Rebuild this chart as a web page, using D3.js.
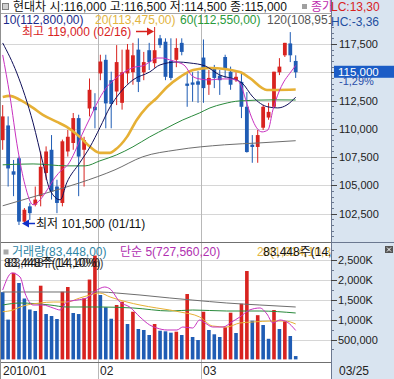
<!DOCTYPE html>
<html>
<head>
<meta charset="utf-8">
<script src="https://cdn.jsdelivr.net/npm/d3@7"></script>
<style>
html, body { margin: 0; padding: 0; background: #fff; overflow: hidden; }
svg { display: block; font-family: "Liberation Sans", "Noto Sans CJK KR", sans-serif; }
</style>
</head>
<body>
<script>
// daily candles, 2010/01/06 .. 2010/03/25
const opens  = [109000,110300,106250,107400,101800,103150,103300,104050,106100,108150,104900,103450,108000,108750,110950,108150,111800,111950,114900,116100,114300,113300,112300,114900,115000,117000,115000,116950,115800,118000,117700,116000,116100,117600,114000,114100,114200,116300,113900,115400,114700,116350,115050,114300,114150,111950,108600,108400,110100,111000,111950,115000,116500,117550,116000];
const highs  = [112100,111100,107250,107550,103000,103450,104900,108000,108450,109450,105500,109050,109900,111400,111250,109300,114450,113150,116550,116550,115050,117400,117000,117500,117600,118000,116800,117600,119000,118300,118000,118000,118000,118000,115000,115000,115100,117900,115200,115650,115200,116550,115500,115000,115050,113250,109450,109900,112100,112300,115050,116250,117600,118550,116500];
const lows   = [108150,104900,104050,101500,101600,101950,103150,103150,105500,103750,102550,103150,107550,108150,104050,104900,111100,110050,114300,110050,110050,112100,111700,114000,113900,113250,114300,115200,115400,117150,114300,114300,115450,116500,111950,112400,112300,112300,113000,113600,113000,114500,113450,114150,110950,107900,107000,107000,109900,110800,111850,114750,116350,115900,114500];
const closes = [111100,106500,105950,101800,102850,102550,103750,106650,108000,104450,103450,108900,109300,110950,107550,109000,113450,111650,115950,112250,112200,115900,115000,117000,116500,114150,115900,115900,116950,117400,114600,114500,117150,116800,113800,113900,113900,113600,114500,114500,114300,115200,113900,114600,111950,107950,108400,109450,111950,111500,115050,115500,117600,116500,115000];
const volumes = [1690000,1000000,2178000,1920000,1530000,1254000,1216000,1852000,1140000,1090000,1015000,1701000,1819000,1166000,1140000,1535000,2007000,2610000,1618000,1309000,1022000,1367000,1450000,889000,1198000,764000,739000,613000,889000,721000,706000,671000,696000,613000,1643000,563000,487000,1198000,739000,631000,563000,807000,1173000,663000,1399000,2221000,972000,1111000,864000,518000,1241000,764000,957000,588000,83448];

// moving averages: [candle index, value]
const ma5 = [[0,116530],[1.3,113000],[2.8,108140],[4.1,105060],[5.6,103290],[6.9,103730],[8.2,104610],[9.6,105670],[10.9,106380],[12,106820],[13.3,107970],[14.6,109470],[16.1,110970],[17.5,112380],[18.8,113440],[20.1,114150],[21.6,114760],[23.1,115210],[24.4,115470],[25.8,115560],[27.1,115910],[28.4,116260],[29.5,116260],[30.8,116090],[32.1,115910],[33.6,115560],[34.9,114680],[36.3,114410],[38.2,114320],[40,114410],[41.9,114410],[43,114320],[43.9,113880],[44.8,112560],[45.9,110970],[46.8,110090],[47.8,109730],[48.9,109910],[49.8,111680],[50.9,113260],[51.8,114150],[52.9,114900],[54,115600]];
const ma10 = [[0,117590],[2.6,114940],[5.6,110530],[7.4,107000],[8.7,104610],[10.6,103730],[11.8,105230],[14.2,107000],[16.1,108410],[17.9,110090],[19.8,111940],[21.6,113180],[24,114320],[27.1,115030],[29,115650],[32.1,115910],[34.5,115820],[37.3,115560],[40,114760],[43.1,114320],[44.1,114060],[46.1,112820],[48.9,111940],[50.7,111850],[52.4,112120],[54,112800]];
const ma20 = [[0,112820],[1.3,112910],[3.2,112560],[5.6,111850],[7.4,111230],[10,110620],[11.8,110170],[14.2,109290],[16.1,108410],[17.9,107880],[19.8,107880],[20.7,108140],[22.9,109290],[24.7,110790],[26.6,111940],[28.4,112730],[30.3,113700],[32.7,114590],[35.1,115210],[38.2,115380],[43.7,115030],[45.5,114500],[48.7,113440],[50.5,113440],[54,113475]];
const ma60 = [[0,106820],[5.6,106900],[11.8,106730],[15.2,106730],[17.9,107170],[21,107700],[24,108410],[27.1,109290],[30.3,110090],[33.2,110790],[36.3,111410],[38.2,111850],[40.6,112200],[43.7,112470],[49.8,112560],[54,112550]];
const ma120 = [[0,103200],[6.9,104170],[14.2,105230],[20.7,106380],[25.8,107530],[32.1,108140],[40.9,108590],[47.4,108760],[54,108951]];

const vma5 = [[0,1744000],[1.7,2171000],[3.2,2070000],[4.1,1668000],[5.6,1367000],[7.4,1367000],[9.3,1292000],[10.6,1241000],[11.8,1442000],[13.7,1492000],[15.5,1543000],[17.4,1744000],[18.8,1819000],[19.8,1769000],[21.6,1442000],[23.4,1317000],[25.3,1065000],[27.1,864000],[28.4,789000],[30.3,739000],[32.1,739000],[33.2,814000],[35,789000],[36.3,990000],[37.3,915000],[38.7,814000],[40.6,814000],[42.2,940000],[43.7,1065000],[45.5,1241000],[47.4,1292000],[48.7,1141000],[49.8,915000],[51.1,990000],[52.4,940000],[54,727560]];
const vma20 = [[0,1198000],[1.9,1241000],[3.2,1317000],[6.9,1417000],[9.3,1442000],[11.8,1442000],[14.2,1543000],[16.1,1618000],[17.9,1668000],[19.8,1568000],[22.9,1442000],[25.3,1367000],[28.4,1292000],[30.8,1241000],[32.7,1191000],[36.3,1065000],[38.7,839000],[41.3,814000],[43.7,915000],[46.1,940000],[49.8,965000],[52,965000],[54,890000]];
const vma60 = [[0,1367000],[3.2,1417000],[8.7,1367000],[11.8,1317000],[17.9,1317000],[24,1292000],[30.8,1216000],[35,1241000],[41.3,1216000],[47.4,1216000],[54,1166000]];
const vma120 = [[0,1694000],[17.9,1694000],[21,1668000],[25.3,1618000],[30.8,1543000],[34.9,1492000],[41.3,1417000],[47.4,1367000],[54,1317000]];

const monthStart = [0, 18, 37];
const monthLabels = ["2010/01", "02", "03"];
const priceTicks = [102500, 105000, 107500, 110000, 112500, 115000, 117500];
const volTicks = [500000, 1000000, 1500000, 2000000, 2500000];
const volTickLabels = ["500,000", "1,000K", "1,500K", "2,000K", "2,500K"];

const W = 394, H = 379, plotR = 331;
const RED = "#d8231f", BLUE = "#1f5cb4";

const svg = d3.select("body").append("svg").attr("width", W).attr("height", H);

const x = d3.scaleLinear().domain([0, 54]).range([2.7, 295.7]);
const yP = d3.scaleLinear().domain([100000, 120150]).range([242, 14]);
const yV = d3.scaleLinear().domain([0, 2925000]).range([359.4, 243]);

const defs = svg.append("defs");
defs.append("clipPath").attr("id", "cp-price").append("rect").attr("x", 0).attr("y", 14).attr("width", plotR).attr("height", 228);
defs.append("clipPath").attr("id", "cp-vol").append("rect").attr("x", 0).attr("y", 243).attr("width", plotR).attr("height", 119);
defs.append("clipPath").attr("id", "cp-plot").append("rect").attr("x", 0).attr("y", 0).attr("width", plotR).attr("height", H);

// grid
const grid = svg.append("g").attr("stroke", "#d6d6d6").attr("shape-rendering", "crispEdges");
grid.selectAll(".hp").data(priceTicks).enter().append("line")
  .attr("x1", 0).attr("x2", plotR).attr("y1", d => Math.round(yP(d)) + 0.5).attr("y2", d => Math.round(yP(d)) + 0.5);
grid.selectAll(".hv").data(volTicks).enter().append("line")
  .attr("x1", 0).attr("x2", plotR).attr("y1", d => Math.round(yV(d)) + 0.5).attr("y2", d => Math.round(yV(d)) + 0.5);
grid.selectAll(".vm").data(monthStart.slice(1)).enter().append("line")
  .attr("stroke", "#b8b8b8")
  .attr("x1", d => Math.round(x(d) - 2) + 0.5).attr("x2", d => Math.round(x(d) - 2) + 0.5)
  .attr("y1", 13).attr("y2", H);

// candles
const gc = svg.append("g").attr("clip-path", "url(#cp-price)");
const idx = d3.range(opens.length);
const candle = gc.selectAll("g").data(idx).enter().append("g")
  .attr("fill", i => closes[i] >= opens[i] ? RED : BLUE)
  .attr("stroke", i => closes[i] >= opens[i] ? RED : BLUE);
candle.append("line")
  .attr("x1", i => x(i)).attr("x2", i => x(i))
  .attr("y1", i => yP(highs[i])).attr("y2", i => yP(lows[i]))
  .attr("stroke-width", 1);
candle.append("rect")
  .attr("stroke", "none")
  .attr("x", i => x(i) - 1.9).attr("width", 3.8)
  .attr("y", i => yP(Math.max(opens[i], closes[i])))
  .attr("height", i => Math.max(1, Math.abs(yP(opens[i]) - yP(closes[i]))));

// price moving averages
const lineP = d3.line().x(d => x(d[0])).y(d => yP(d[1])).curve(d3.curveMonotoneX);
const gl = svg.append("g").attr("clip-path", "url(#cp-price)").attr("fill", "none");
gl.append("path").datum(ma120).attr("d", lineP).attr("stroke", "#6e6e6e").attr("stroke-width", 1);
gl.append("path").datum(ma60).attr("d", lineP).attr("stroke", "#2a8a3c").attr("stroke-width", 1);
gl.append("path").datum(ma20).attr("d", lineP).attr("stroke", "#e6b035").attr("stroke-width", 2.6);
gl.append("path").datum(ma10).attr("d", lineP).attr("stroke", "#10105a").attr("stroke-width", 1);
gl.append("path").datum(ma5).attr("d", lineP).attr("stroke", "#c832c0").attr("stroke-width", 1);

// volume bars
const gv = svg.append("g").attr("clip-path", "url(#cp-vol)");
gv.selectAll("rect").data(idx).enter().append("rect")
  .attr("x", i => x(i) - 1.8).attr("width", 3.6)
  .attr("y", i => yV(volumes[i]))
  .attr("height", i => yV(0) - yV(volumes[i]))
  .attr("fill", i => (i > 0 && volumes[i] > volumes[i - 1]) ? RED : BLUE);

const lineV = d3.line().x(d => x(d[0])).y(d => yV(d[1])).curve(d3.curveMonotoneX);
const gvl = svg.append("g").attr("clip-path", "url(#cp-vol)").attr("fill", "none").attr("stroke-width", 1);
gvl.append("path").datum(vma120).attr("d", lineV).attr("stroke", "#6e6e6e");
gvl.append("path").datum(vma60).attr("d", lineV).attr("stroke", "#2a8a3c");
gvl.append("path").datum(vma20).attr("d", lineV).attr("stroke", "#e6b035");
gvl.append("path").datum(vma5).attr("d", lineV).attr("stroke", "#c832c0");

// panel borders
const borders = svg.append("g").attr("stroke", "#707070").attr("shape-rendering", "crispEdges");
borders.append("line").attr("x1", 0).attr("x2", plotR).attr("y1", 13.5).attr("y2", 13.5).attr("stroke", "#a8a8a8");
borders.append("line").attr("x1", 0).attr("x2", W).attr("y1", 242.5).attr("y2", 242.5);
borders.append("line").attr("x1", 0).attr("x2", W).attr("y1", 362.5).attr("y2", 362.5);
borders.append("line").attr("x1", 0.5).attr("x2", 0.5).attr("y1", 0).attr("y2", H).attr("stroke", "#909090");

// texts inside the plot
const txt = svg.append("g").attr("clip-path", "url(#cp-plot)").attr("font-size", 12);
txt.append("rect").attr("x", 2.5).attr("y", 3.5).attr("width", 6).attr("height", 6)
  .attr("fill", "#d0d0d0").attr("stroke", "#808080");
txt.append("text").attr("x", 13).attr("y", 11).attr("fill", "#111")
  .text("현대차 시:116,000 고:116,500 저:114,500 종:115,000");
txt.append("rect").attr("x", 302).attr("y", 4).attr("width", 5).attr("height", 5).attr("fill", "#a0a0a0");
txt.append("text").attr("x", 311).attr("y", 11).attr("fill", "#c02cb0").text("종가");

const legend = [
  { t: "10(112,800,00)", x: 3, c: "#1a2a8a" },
  { t: "20(113,475,00)", x: 95, c: "#e2b440" },
  { t: "60(112,550,00)", x: 180, c: "#2a9a3a" },
  { t: "120(108,951,00)", x: 267, c: "#555" }
];
txt.selectAll(".lg").data(legend).enter().append("text")
  .attr("x", d => d.x).attr("y", 24).attr("fill", d => d.c).text(d => d.t);

// high / low markers
txt.append("text").attr("x", 22).attr("y", 36).attr("fill", RED).text("최고 119,000 (02/16)");
txt.append("line").attr("x1", 136).attr("x2", 148).attr("y1", 31.5).attr("y2", 31.5).attr("stroke", RED).attr("stroke-width", 1.5);
txt.append("path").attr("d", "M154,31.5 L147,27.5 L147,35.5 Z").attr("fill", RED);
txt.append("path").attr("d", "M22,223.5 L29,219.5 L29,227.5 Z").attr("fill", "#1030c8");
txt.append("line").attr("x1", 28).attr("x2", 35).attr("y1", 223.5).attr("y2", 223.5).attr("stroke", "#1030c8").attr("stroke-width", 1.5);
txt.append("text").attr("x", 36).attr("y", 228).attr("fill", "#111").text("최저 101,500 (01/11)");

// volume legend
txt.append("rect").attr("x", 3.5).attr("y", 249.5).attr("width", 5).attr("height", 5).attr("fill", "#a8a8a8");
txt.append("text").attr("x", 12).attr("y", 256).attr("fill", "#2f86a6").text("거래량(83,448,00)");
txt.append("text").attr("x", 120).attr("y", 256).attr("fill", "#b02fb0").text("단순 5(727,560,20)");
txt.append("text").attr("x", 257).attr("y", 256).attr("fill", "#e2b440").text("20(1,014,10,30)");
txt.append("text").attr("x", 263).attr("y", 256).attr("fill", "#111").text("83,448주(14,10%)");
txt.append("text").attr("x", 4).attr("y", 267).attr("fill", "#111").text("83,448주(14,10%)");
txt.append("text").attr("x", 7).attr("y", 267).attr("fill", "#111").attr("opacity", 0.8).text("83,448주(14,40%)");

// date axis
txt.selectAll(".dt").data(monthStart).enter().append("text")
  .attr("x", (d, i) => i === 0 ? 3 : Math.round(x(d) - 2) + 2).attr("y", 375)
  .attr("fill", "#222").text((d, i) => monthLabels[i]);

// right panel
const rp = svg.append("g");
rp.append("rect").attr("x", plotR).attr("y", 0).attr("width", W - plotR).attr("height", H).attr("fill", "#d9e4f0");
rp.append("line").attr("x1", plotR + 0.5).attr("x2", plotR + 0.5).attr("y1", 0).attr("y2", H)
  .attr("stroke", "#6b7890").attr("shape-rendering", "crispEdges");
rp.append("line").attr("x1", plotR).attr("x2", W).attr("y1", 242.5).attr("y2", 242.5)
  .attr("stroke", "#6b7890").attr("shape-rendering", "crispEdges");

const fmt = d3.format(",");
const minorP = d3.range(100500, 120001, 500).filter(v => v % 2500 !== 0);
rp.selectAll(".mp").data(minorP).enter().append("line")
  .attr("x1", plotR).attr("x2", plotR + 3).attr("y1", d => Math.round(yP(d)) + 0.5).attr("y2", d => Math.round(yP(d)) + 0.5)
  .attr("stroke", "#6b7890").attr("shape-rendering", "crispEdges");
rp.selectAll(".tp").data(priceTicks).enter().append("line")
  .attr("x1", plotR).attr("x2", plotR + 6).attr("y1", d => Math.round(yP(d)) + 0.5).attr("y2", d => Math.round(yP(d)) + 0.5)
  .attr("stroke", "#444").attr("shape-rendering", "crispEdges");
rp.selectAll(".lp").data(priceTicks.filter(d => d !== 115000)).enter().append("text")
  .attr("x", 339).attr("y", d => yP(d) + 4).attr("font-size", 11).attr("fill", "#222").text(d => fmt(d));

const minorV = d3.range(250000, 2900000, 250000).filter(v => v % 500000 !== 0);
rp.selectAll(".mv").data(minorV).enter().append("line")
  .attr("x1", plotR).attr("x2", plotR + 3).attr("y1", d => Math.round(yV(d)) + 0.5).attr("y2", d => Math.round(yV(d)) + 0.5)
  .attr("stroke", "#6b7890").attr("shape-rendering", "crispEdges");
rp.selectAll(".tv").data(volTicks).enter().append("line")
  .attr("x1", plotR).attr("x2", plotR + 6).attr("y1", d => Math.round(yV(d)) + 0.5).attr("y2", d => Math.round(yV(d)) + 0.5)
  .attr("stroke", "#444").attr("shape-rendering", "crispEdges");
rp.selectAll(".lv").data(volTicks).enter().append("text")
  .attr("x", 338).attr("y", d => yV(d) + 4).attr("font-size", 11).attr("fill", "#222").text((d, i) => volTickLabels[i]);

// current price tag
rp.append("rect").attr("x", 334).attr("y", yP(115000) - 6.5).attr("width", 60).attr("height", 12).attr("fill", "#1b5cc6");
rp.append("text").attr("x", 338).attr("y", yP(115000) + 4).attr("font-size", 11.5).attr("fill", "#fff").text("115,000");
rp.append("text").attr("x", 339).attr("y", yP(115000) + 13).attr("font-size", 11).attr("fill", "#2a4fa8").text("-1,29%");

rp.append("text").attr("x", 331).attr("y", 11).attr("font-size", 12).attr("fill", "#d8231f").text("LC:13,30");
rp.append("text").attr("x", 331).attr("y", 26).attr("font-size", 12).attr("fill", "#1f4fa0").text("HC:-3,36");
rp.append("text").attr("x", 339).attr("y", 375).attr("font-size", 12).attr("fill", "#222").text("03/25");

// close box in volume panel
rp.append("rect").attr("x", 385).attr("y", 246).attr("width", 8).attr("height", 7).attr("fill", "#555");
rp.append("path").attr("d", "M387,247.5 L391,251.5 M391,247.5 L387,251.5").attr("stroke", "#fff").attr("stroke-width", 1);
</script>
</body>
</html>
